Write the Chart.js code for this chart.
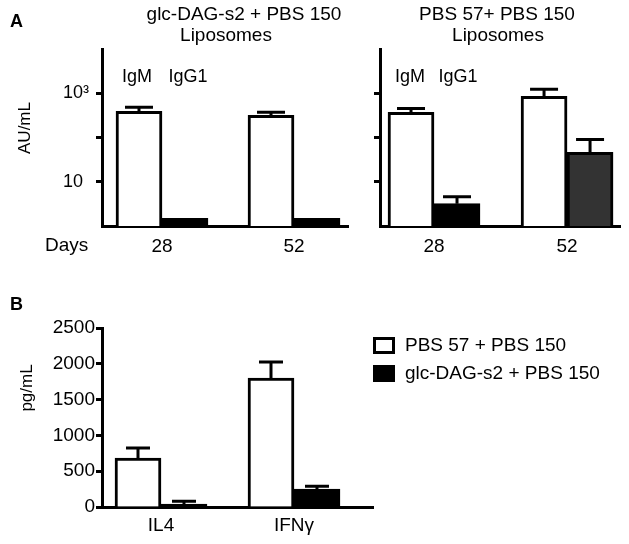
<!DOCTYPE html>
<html>
<head>
<meta charset="utf-8">
<script src="https://cdn.jsdelivr.net/npm/chart.js@4.4.1/dist/chart.umd.min.js"></script>
<style>
html, body { margin: 0; padding: 0; background: #fff; }
#fig { position: relative; width: 629px; height: 544px; }
#fig canvas { position: absolute; left: 0; top: 0; }
</style>
</head>
<body>
<div id="fig">
    <canvas id="chartA1" width="629" height="544"></canvas>
    <canvas id="chartA2" width="629" height="544"></canvas>
    <canvas id="chartB" width="629" height="544"></canvas>
</div>
<script>
// Panel A - antibody titres (AU/mL, log scale)
const days = ['28', '52'];
const groupsA = ['glc-DAG-s2 + PBS 150', 'PBS 57+ PBS 150'];
const isotypes = ['IgM', 'IgG1'];
const glcIgM = [390, 316];
const glcIgMErr = [90, 54];
const glcIgG1 = [1.5, 1.5];
const glcIgG1Err = [0, 0];
const pbsIgM = [370, 850];
const pbsIgMErr = [85, 380];
const pbsIgG1 = [3.2, 46];
const pbsIgG1Err = [1.4, 44];
const logTicks = [10, 100, 1000];
const logTickLabels = ['10', '', '10³'];

// Panel B - cytokines (pg/mL)
const cytokines = ['IL4', 'IFNγ'];
const groupsB = ['PBS 57 + PBS 150', 'glc-DAG-s2 + PBS 150'];
const pbsCyto = [684, 1800];
const pbsCytoErr = [140, 225];
const glcCyto = [42, 250];
const glcCytoErr = [38, 40];

Chart.defaults.font.family = '"Liberation Sans", Arial, sans-serif';
Chart.defaults.color = '#000';

const FONT = '"Liberation Sans", Arial, sans-serif';

function pts(values) {
    return values.map((v, i) => ({ x: i, y: v }));
}

// upward-only error bars with a cap
const errorBars = {
    id: 'errorBars',
    afterDatasetsDraw(chart, args, opts) {
        const ctx = chart.ctx;
        const yScale = chart.scales.y;
        const cap = opts.cap || 26;
        chart.data.datasets.forEach((ds, di) => {
            if (!ds.errors) return;
            const meta = chart.getDatasetMeta(di);
            meta.data.forEach((bar, i) => {
                const err = ds.errors[i];
                if (!err) return;
                const top = yScale.getPixelForValue(ds.data[i].y + err);
                ctx.save();
                ctx.strokeStyle = '#000';
                ctx.lineWidth = 3;
                ctx.beginPath();
                ctx.moveTo(bar.x, bar.y);
                ctx.lineTo(bar.x, top);
                ctx.moveTo(bar.x - cap / 2, top);
                ctx.lineTo(bar.x + cap / 2, top);
                ctx.stroke();
                ctx.restore();
            });
        });
    }
};

// free text labels (titles, panel letters, axis titles)
const figText = {
    id: 'figText',
    afterDraw(chart, args, opts) {
        const ctx = chart.ctx;
        (opts.items || []).forEach(t => {
            ctx.save();
            ctx.font = t.font;
            ctx.fillStyle = '#000';
            ctx.textAlign = t.align || 'center';
            ctx.textBaseline = 'middle';
            ctx.translate(t.x, t.y);
            if (t.rotate) ctx.rotate(t.rotate);
            ctx.fillText(t.text, 0, 0);
            ctx.restore();
        });
    }
};

// square box legend like the original figure
const boxLegend = {
    id: 'boxLegend',
    afterDraw(chart, args, opts) {
        if (opts.x === undefined) return;
        const ctx = chart.ctx;
        chart.data.datasets.forEach((ds, i) => {
            const top = opts.y + i * opts.step;
            ctx.save();
            ctx.fillStyle = ds.backgroundColor;
            ctx.fillRect(opts.x, top, opts.w, opts.h);
            ctx.lineWidth = 3;
            ctx.strokeStyle = '#000';
            ctx.strokeRect(opts.x + 1.5, top + 1.5, opts.w - 3, opts.h - 3);
            ctx.font = opts.font;
            ctx.fillStyle = '#000';
            ctx.textAlign = 'left';
            ctx.textBaseline = 'middle';
            ctx.fillText(ds.label, opts.x + opts.w + 10, top + opts.h / 2);
            ctx.restore();
        });
    }
};

const axisBorder = { display: true, color: '#000', width: 3 };
const yGrid = { drawOnChartArea: false, drawTicks: true, tickLength: 6, tickWidth: 3, tickColor: '#000' };

function barSet(label, values, errors, color) {
    return {
        label: label,
        data: pts(values),
        errors: errors,
        backgroundColor: color,
        borderColor: '#000',
        borderWidth: 3,
        borderSkipped: 'bottom',
        barThickness: 46
    };
}

function logPanel(canvasId, igm, igmErr, igg1, igg1Err, igg1Color, cfg) {
    return new Chart(document.getElementById(canvasId), {
        type: 'bar',
        data: {
            datasets: [
                barSet(isotypes[0], igm, igmErr, '#fff'),
                barSet(isotypes[1], igg1, igg1Err, igg1Color)
            ]
        },
        options: {
            responsive: false,
            animation: false,
            layout: { padding: cfg.padding },
            plugins: {
                legend: { display: false },
                tooltip: { enabled: false },
                errorBars: { cap: 28 },
                figText: { items: cfg.texts }
            },
            scales: {
                x: {
                    type: 'linear',
                    offset: false,
                    bounds: 'data',
                    min: cfg.xMin,
                    max: cfg.xMax,
                    afterBuildTicks: s => { s.ticks = days.map((d, i) => ({ value: i })); },
                    afterFit: s => { s.height = 30; },
                    border: axisBorder,
                    grid: { display: false, drawTicks: false, tickLength: 0 },
                    ticks: { padding: 9, font: { size: 19 }, callback: (v, i) => days[i] }
                },
                y: {
                    type: 'logarithmic',
                    min: 1,
                    max: 10000,
                    afterBuildTicks: s => { s.ticks = logTicks.map(v => ({ value: v })); },
                    afterFit: s => { s.width = cfg.yWidth; },
                    border: axisBorder,
                    grid: yGrid,
                    ticks: {
                        crossAlign: 'far',
                        padding: 2,
                        font: { size: 18 },
                        callback: (v, i) => cfg.showLabels ? logTickLabels[i] : ''
                    }
                }
            }
        },
        plugins: [errorBars, figText]
    });
}

logPanel('chartA1', glcIgM, glcIgMErr, glcIgG1, glcIgG1Err, '#000', {
    padding: { left: 63, top: 49, right: 281, bottom: 288 },
    yWidth: 39,
    showLabels: true,
    xMin: -0.4545,
    xMax: 1.409,
    texts: [
        { text: 'A', x: 10, y: 22, align: 'left', font: 'bold 18px ' + FONT },
        { text: groupsA[0], x: 244, y: 15, font: '19px ' + FONT },
        { text: 'Liposomes', x: 226, y: 36, font: '19px ' + FONT },
        { text: isotypes[0], x: 137, y: 77, font: '18px ' + FONT },
        { text: isotypes[1], x: 188, y: 77, font: '18px ' + FONT },
        { text: 'AU/mL', x: 25, y: 128, rotate: -Math.PI / 2, font: '17px ' + FONT },
        { text: 'Days', x: 45, y: 246, align: 'left', font: '19px ' + FONT }
    ]
});

logPanel('chartA2', pbsIgM, pbsIgMErr, pbsIgG1, pbsIgG1Err, ['#000', '#333'], {
    padding: { left: 360, top: 49, right: 9, bottom: 288 },
    yWidth: 20,
    showLabels: false,
    xMin: -0.406,
    xMax: 1.398,
    texts: [
        { text: groupsA[1], x: 497, y: 15, font: '19px ' + FONT },
        { text: 'Liposomes', x: 498, y: 36, font: '19px ' + FONT },
        { text: isotypes[0], x: 410, y: 77, font: '18px ' + FONT },
        { text: isotypes[1], x: 458, y: 77, font: '18px ' + FONT }
    ]
});

new Chart(document.getElementById('chartB'), {
    type: 'bar',
    data: {
        datasets: [
            barSet(groupsB[0], pbsCyto, pbsCytoErr, '#fff'),
            barSet(groupsB[1], glcCyto, glcCytoErr, '#000')
        ]
    },
    options: {
        responsive: false,
        animation: false,
        layout: { padding: { left: 0, top: 328, right: 256, bottom: 7 } },
        plugins: {
            legend: { display: false },
            tooltip: { enabled: false },
            errorBars: { cap: 24 },
            figText: {
                items: [
                    { text: 'B', x: 10, y: 305, align: 'left', font: 'bold 18px ' + FONT },
                    { text: 'pg/mL', x: 27, y: 388, rotate: -Math.PI / 2, font: '17px ' + FONT }
                ]
            },
            boxLegend: { x: 373, y: 337, w: 22, h: 17, step: 28, font: '19px ' + FONT }
        },
        scales: {
            x: {
                type: 'linear',
                offset: false,
                bounds: 'data',
                min: -0.4436,
                max: 1.594,
                afterBuildTicks: s => { s.ticks = cytokines.map((c, i) => ({ value: i })); },
                afterFit: s => { s.height = 30; },
                border: axisBorder,
                grid: { display: false, drawTicks: false, tickLength: 0 },
                ticks: { padding: 7, font: { size: 19 }, callback: (v, i) => cytokines[i] }
            },
            y: {
                min: 0,
                max: 2500,
                afterFit: s => { s.width = 102; },
                border: axisBorder,
                grid: yGrid,
                ticks: { stepSize: 500, padding: 1, font: { size: 19 }, callback: v => String(v) }
            }
        }
    },
    plugins: [errorBars, figText, boxLegend]
});
</script>
</body>
</html>
